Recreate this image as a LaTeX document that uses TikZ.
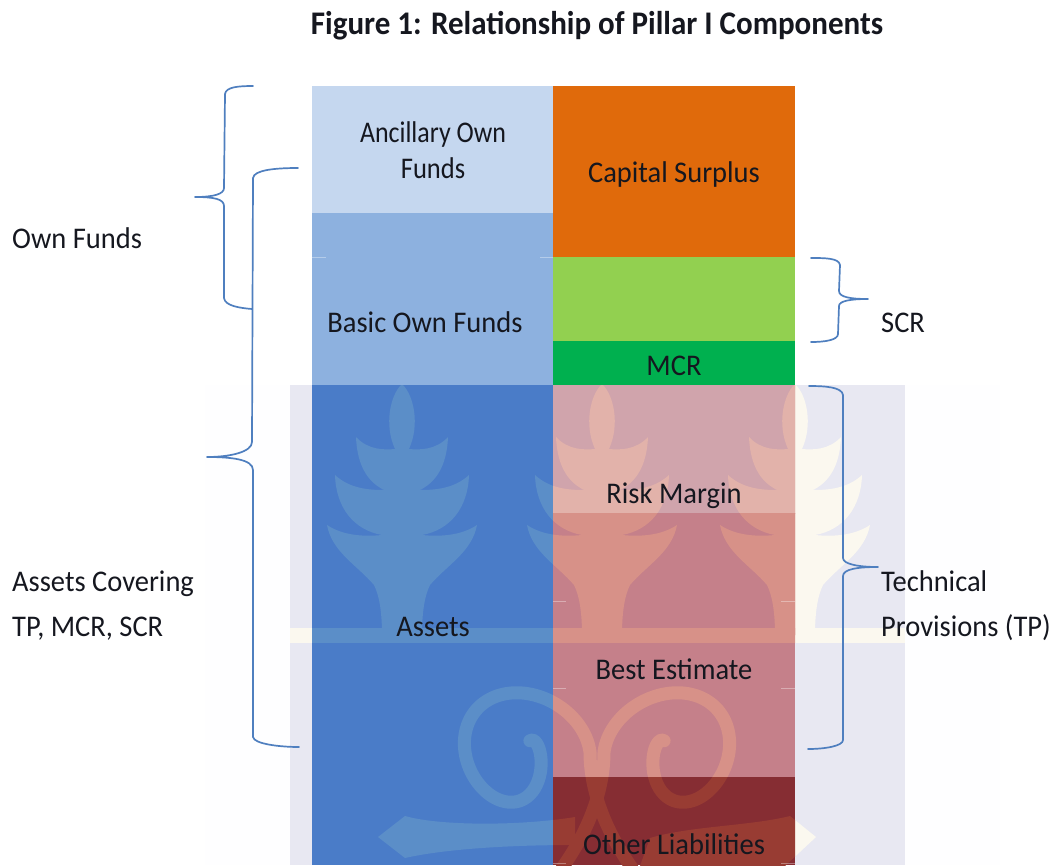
\documentclass[tikz,border=0pt]{standalone}
\usepackage{fontspec}
\setmainfont{Carlito}
\definecolor{bgpale}{HTML}{FEFEFF}
\definecolor{bglav}{HTML}{E8E8F2}
\definecolor{wmbg}{HTML}{FBF8EF}
\definecolor{ancil}{HTML}{C5D7EF}
\definecolor{basic}{HTML}{8DB1DF}
\definecolor{assetc}{HTML}{4A7CC8}
\definecolor{assetw}{HTML}{5B8EC8}
\definecolor{capit}{HTML}{E06A0B}
\definecolor{scrg}{HTML}{92D050}
\definecolor{mcrg}{HTML}{00B04F}
\definecolor{riskc}{HTML}{D0A4AC}
\definecolor{riskw}{HTML}{E2B2AA}
\definecolor{bestc}{HTML}{C5808A}
\definecolor{bestw}{HTML}{D79188}
\definecolor{otherc}{HTML}{862D33}
\definecolor{otherw}{HTML}{983C33}
\definecolor{bracec}{HTML}{4F7FBF}
\definecolor{inkc}{HTML}{15171F}
\newcommand{\wmhalf}{%
  \fill (0,384) .. controls (12,395) and (18,425) .. (7,449)
    .. controls (18,450) and (34,450) .. (46,437)
    .. controls (45,460) and (38,480) .. (18,490)
    .. controls (32,490) and (52,489) .. (67,475)
    .. controls (66,508) and (48,530) .. (20,535)
    .. controls (40,537) and (60,535) .. (75,525)
    .. controls (70,552) and (45,565) .. (28,585)
    .. controls (22,597) and (20,615) .. (20,635)
    -- (0,635) -- cycle;}
\newcommand{\wmtree}[1]{%
  \begin{scope}[shift={(#1,0)}]\wmhalf\end{scope}%
  \begin{scope}[shift={(#1,0)},xscale=-1]\wmhalf\end{scope}}
\newcommand{\wmspiral}{%
  \draw[line width=13,line cap=round] plot[domain=-40:360,samples=70,smooth]
      ({515+(25+\x/360*50)*cos(\x)},{752+((\x+60)/(\x+120)*70)*sin(\x)})
      .. controls (590,790) and (605,830) .. (632,868);}
\newcommand{\wmall}[1]{%
  \begin{scope}[fill=#1,draw=#1]
    \wmtree{402}\wmtree{602}\wmtree{795}
    \fill (290,628) rectangle (905,643);
    \wmspiral
    \begin{scope}[shift={(1194,0)},xscale=-1]\wmspiral\end{scope}
    \fill (378,837) -- (405,816) .. controls (440,826) and (520,826) .. (575,817)
      -- (575,845) .. controls (500,845) and (440,850) .. (405,858) -- cycle;
    \fill (816,837) -- (790,816) .. controls (750,826) and (690,826) .. (650,838)
      -- (640,866) -- (785,866) -- cycle;
  \end{scope}}
\newcommand{\region}[6]{%
  \fill[#5] (#1,#2) rectangle (#3,#4);
  \begin{scope}\clip (#1,#2) rectangle (#3,#4);\wmall{#6}\end{scope}}
\tikzset{
  lbl/.style={font=\fontsize{30}{30}\selectfont,text=inkc,inner sep=0pt,anchor=base,xscale=0.95},
  lblw/.style={lbl,anchor=base west},
  curly/.style={draw=bracec,line width=1.7pt,line cap=round,line join=round},
  tick/.style={draw=white,opacity=.35,line width=1pt}
}
\begin{document}
\begin{tikzpicture}[x=1pt,y=-1pt]
\useasboundingbox (0,0) rectangle (1055,865);
% watermark page
\fill[bgpale] (205,385) rectangle (1000,865);
\fill[bglav] (290,385) rectangle (905,865);
\begin{scope}\clip (290,385) rectangle (905,865);\wmall{wmbg}\end{scope}
% left column
\fill[ancil] (312,86) rectangle (553,213);
\fill[basic] (312,213) rectangle (553,385);
\region{312}{385}{553}{865}{assetc}{assetw}
% right column
\fill[capit] (553,86) rectangle (795,257);
\fill[scrg] (553,257) rectangle (795,341);
\fill[mcrg] (553,341) rectangle (795,385);
\region{553}{385}{795}{513}{riskc}{riskw}
\region{553}{513}{795}{777}{bestc}{bestw}
\region{553}{777}{795}{865}{otherc}{otherw}
% grid ticks
\foreach \yy in {601,688,863}{
  \draw[tick] (553,\yy) -- (566,\yy);
  \draw[tick] (781,\yy) -- (795,\yy);}
\draw[tick] (312,257) -- (326,257);
\draw[tick] (540,257) -- (553,257);
% braces
\draw[curly] (253,86) .. controls (238,86) and (226,87) .. (225,94)
  -- (224,188) .. controls (224,194) and (214,197) .. (195,197)
  .. controls (214,197) and (224,199) .. (224,206)
  -- (224,298) .. controls (225,306) and (240,308) .. (252,309);
\draw[curly] (298,168) .. controls (275,168) and (254,170) .. (253,178)
  -- (252,442) .. controls (252,452) and (230,457) .. (207,457)
  .. controls (230,457) and (253,459) .. (253,470)
  -- (253,737) .. controls (254,744) and (280,747) .. (299,747);
\draw[curly] (811,258) .. controls (825,258) and (839,258) .. (840,265)
  -- (839,291) .. controls (839,297) and (850,299) .. (868,299)
  .. controls (850,299) and (839,301) .. (839,306)
  -- (838,334) .. controls (838,340) and (825,342) .. (811,342);
\draw[curly] (809,386) .. controls (825,386) and (842,387) .. (843,395)
  -- (843,558) .. controls (843,564) and (858,567) .. (878,567)
  .. controls (858,567) and (843,569) .. (843,576)
  -- (843,740) .. controls (843,746) and (825,749) .. (808,749);
% labels
\node[lbl,font=\bfseries\fontsize{33}{33}\selectfont,xscale=0.94/0.95] (title) at (597,34) {Figure 1: Relationship of Pillar I Components};
\node[lbl,xscale=0.91] (anc1) at (433,142) {Ancillary Own};
\node[lbl,xscale=0.93] (anc2) at (433,178) {Funds};
\node[lbl] (bof) at (425,332) {Basic Own Funds};
\node[lbl] (ast) at (433,636) {Assets};
\node[lbl] (cap) at (674,182) {Capital Surplus};
\node[lbl] (mcr) at (674,375) {MCR};
\node[lbl] (rm) at (674,503) {Risk Margin};
\node[lbl] (be) at (674,679) {Best Estimate};
\node[lbl] (ol) at (674,854) {Other Liabilities};
\node[lblw] (of) at (12,248) {Own Funds};
\node[lblw] (ac1) at (12,591) {Assets Covering};
\node[lblw] (ac2) at (12,636) {TP, MCR, SCR};
\node[lblw] (scr) at (881,332) {SCR};
\node[lblw] (tp1) at (881,591) {Technical};
\node[lblw] (tp2) at (881,636) {Provisions (TP)};
\end{tikzpicture}
\end{document}
